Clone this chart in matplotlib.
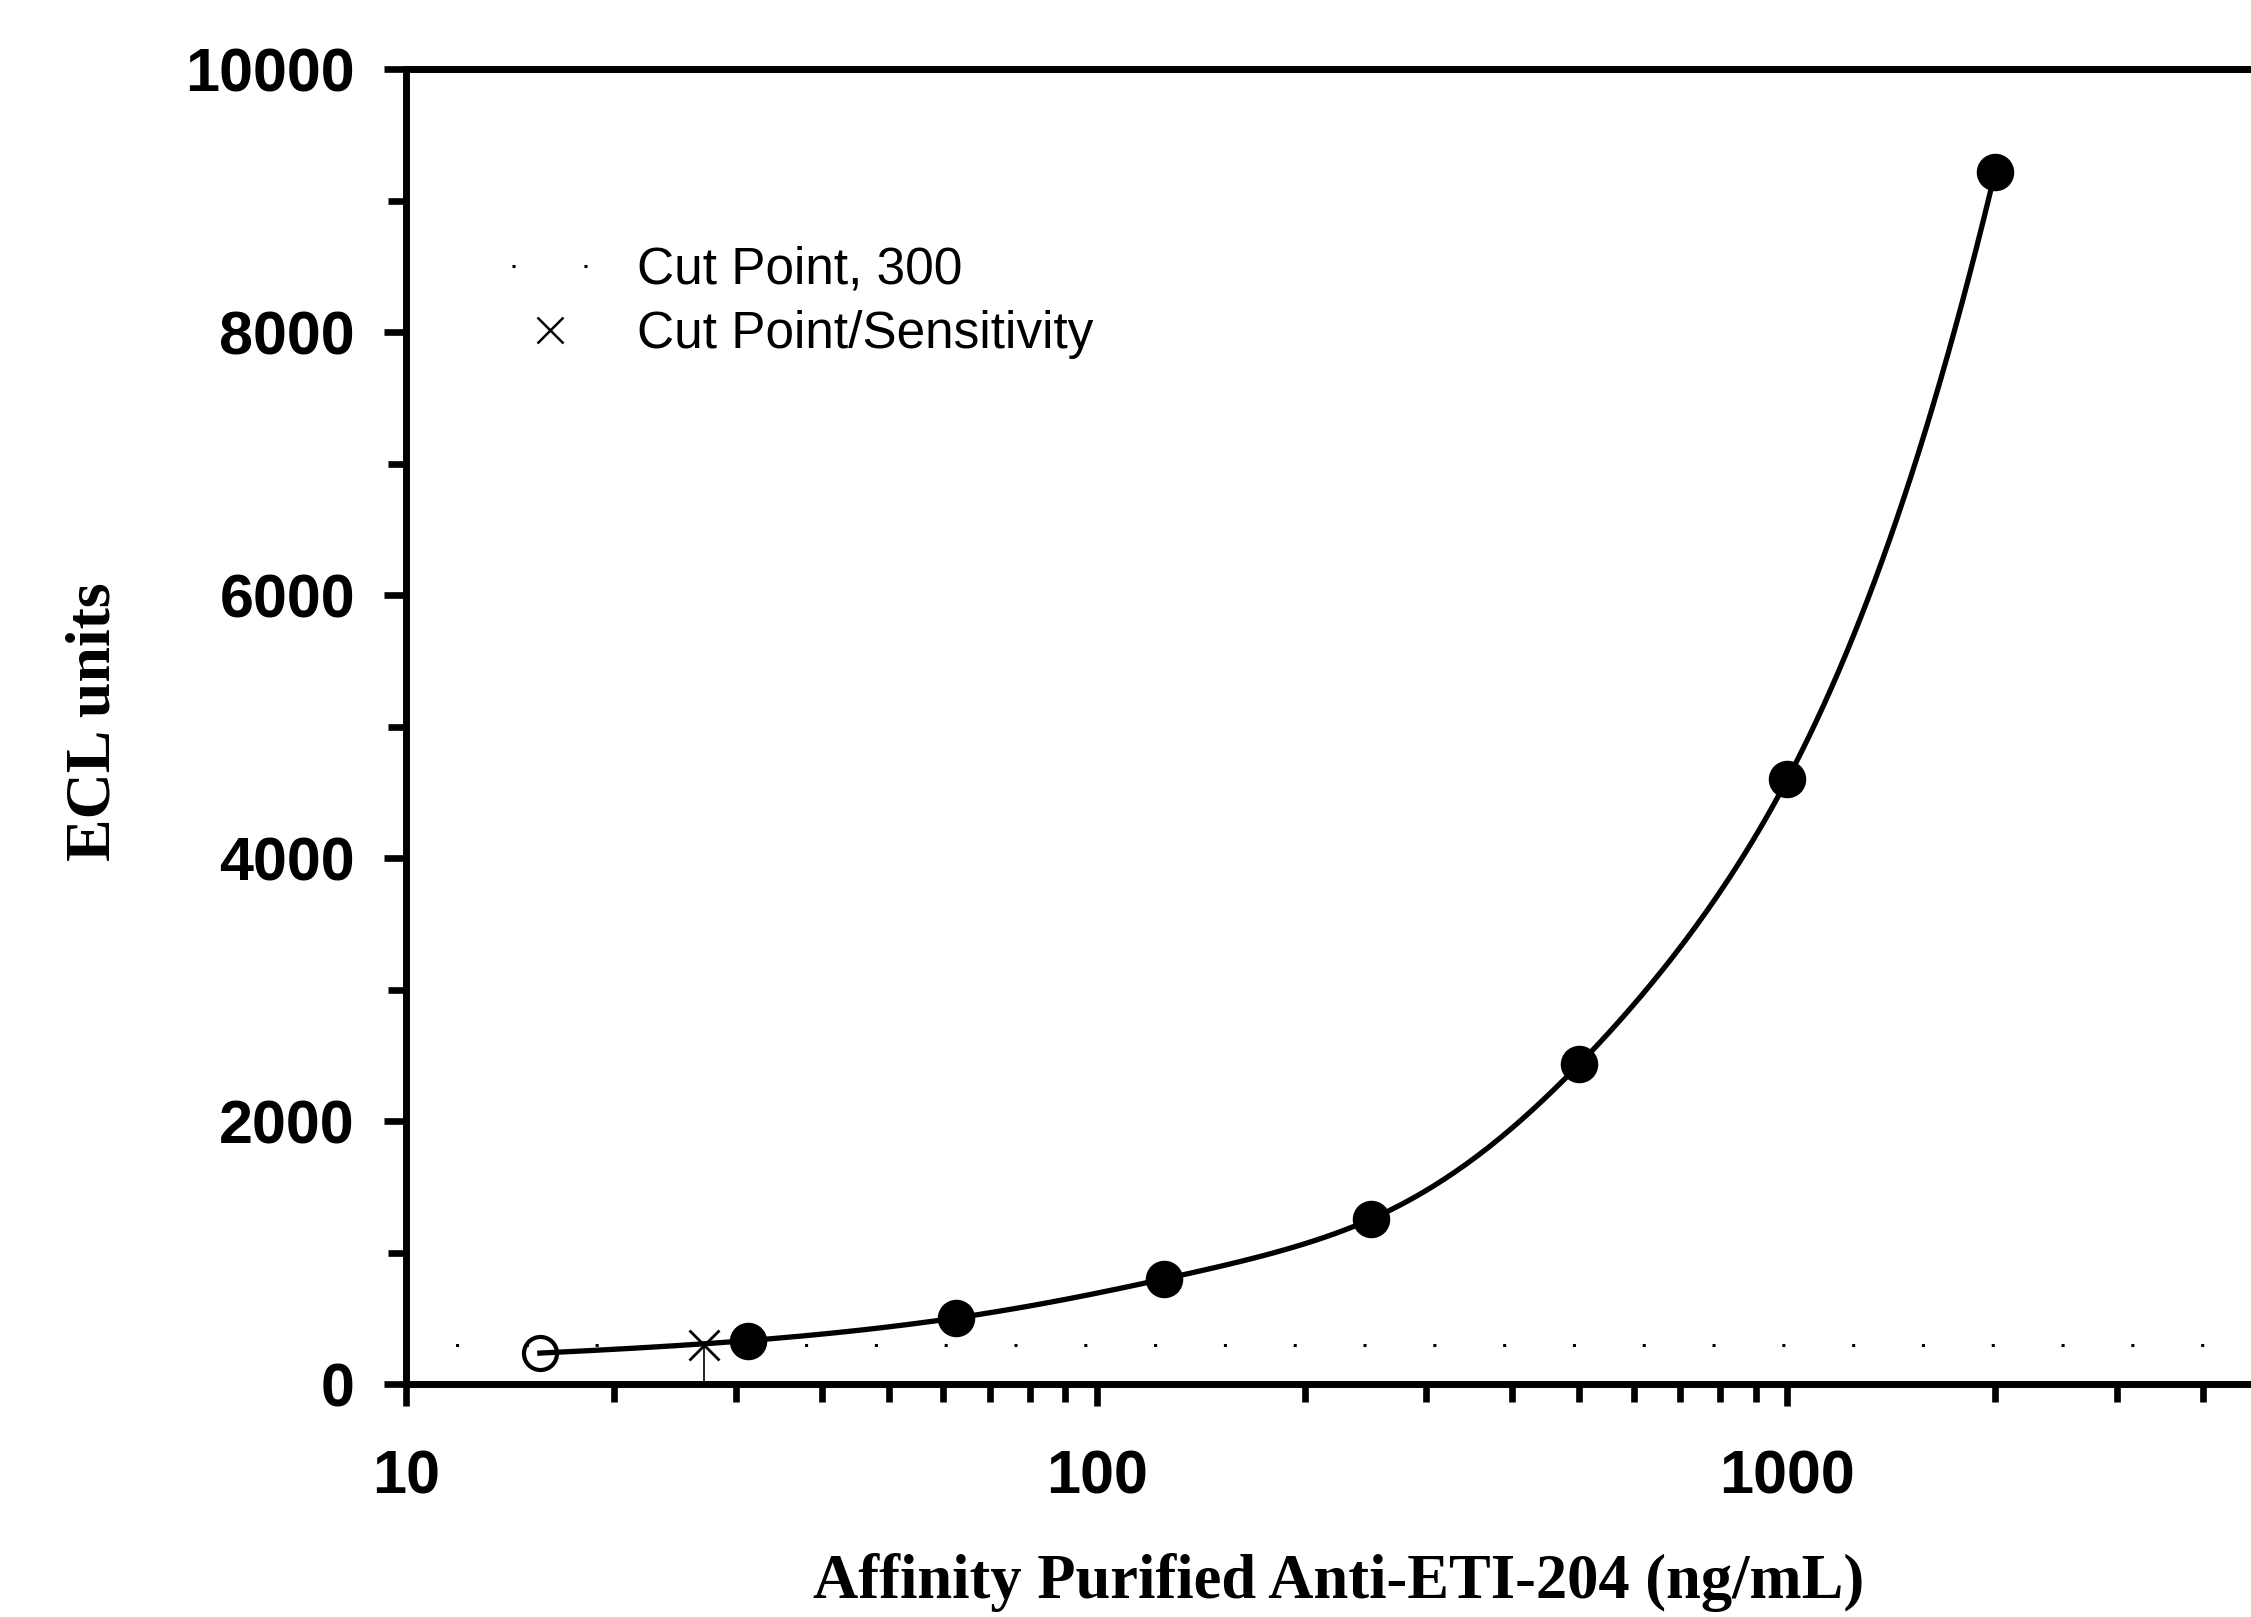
import numpy as np
import matplotlib
matplotlib.use('Agg')
import matplotlib.pyplot as plt
from matplotlib.lines import Line2D
from matplotlib.ticker import FixedLocator, MultipleLocator, LogLocator, NullFormatter

# standard curve
conc = [15.625, 31.25, 62.5, 125, 250, 500, 1000, 2000]
ecl = [235, 330, 502, 798, 1255, 2433, 4597, 9217]
cut_point = 300
sensitivity = 27
xticks = [10, 100, 1000]
xticklabels = ['10', '100', '1000']
yticks = [0, 2000, 4000, 6000, 8000, 10000]

plt.rcParams['font.family'] = 'Liberation Sans'
plt.rcParams['lines.scale_dashes'] = False


def natural_spline(x, y, xs):
    # natural cubic spline, x evenly spaced
    x = np.asarray(x, float)
    y = np.asarray(y, float)
    n = len(x)
    h = x[1] - x[0]
    A = np.zeros((n, n))
    b = np.zeros(n)
    A[0, 0] = A[-1, -1] = 1
    for i in range(1, n - 1):
        A[i, i - 1] = h
        A[i, i] = 4 * h
        A[i, i + 1] = h
        b[i] = 6 * (y[i + 1] - 2 * y[i] + y[i - 1]) / h
    M = np.linalg.solve(A, b)
    idx = np.clip(np.searchsorted(x, xs) - 1, 0, n - 2)
    x0, x1 = x[idx], x[idx + 1]
    return (M[idx] * (x1 - xs) ** 3 / (6 * h) + M[idx + 1] * (xs - x0) ** 3 / (6 * h)
            + (y[idx] / h - M[idx] * h / 6) * (x1 - xs)
            + (y[idx + 1] / h - M[idx + 1] * h / 6) * (xs - x0))


lx = np.log10(conc)
ly = np.log10(ecl)
xs = np.linspace(lx[0], lx[-1], 400)
ys = 10 ** natural_spline(lx, ly, xs)

fig = plt.figure(figsize=(11.255, 8.085), dpi=200)
ax = fig.add_axes([406 / 2251, 1 - 1384 / 1617, (2270 - 406) / 2251, (1384 - 69) / 1617])

# cut point line
ax.plot([10, 5000], [cut_point, cut_point], color='black', lw=1.1,
        ls=(7.3, (1.1, 24.03)), zorder=1)

# fitted curve
ax.plot(10 ** xs, ys, color='black', lw=1.9, zorder=2)
ax.plot(conc[1:], ecl[1:], 'o', color='black', ms=13, mew=0.5, zorder=3)
ax.plot(conc[:1], ecl[:1], 'o', mfc='none', mec='black', ms=11.9, mew=1.5, zorder=3)

# sensitivity
ax.plot([sensitivity, sensitivity], [0, cut_point], color='black', lw=0.6, zorder=2)
ax.plot([sensitivity], [cut_point], 'x', color='black', ms=11, mew=1.0, zorder=4)

ax.set_xscale('log')
ax.set_xlim(10, 5000)
ax.set_ylim(0, 10000)
ax.xaxis.set_major_locator(FixedLocator(xticks))
ax.set_xticklabels(xticklabels)
ax.xaxis.set_minor_locator(LogLocator(base=10, subs=np.arange(2, 10)))
ax.xaxis.set_minor_formatter(NullFormatter())
ax.set_yticks(yticks)
ax.set_yticklabels([str(v) for v in yticks])
ax.yaxis.set_minor_locator(MultipleLocator(1000))

for s in ['left', 'bottom', 'top']:
    ax.spines[s].set_linewidth(2.5)
ax.spines['right'].set_visible(False)

ax.tick_params(which='major', length=8, width=2.4, labelsize=22, color='black')
ax.tick_params(which='minor', length=6.6, width=2.4)
ax.tick_params(axis='x', which='major', pad=15.5)
ax.tick_params(axis='y', which='major', pad=10.4)
for lab in ax.get_xticklabels() + ax.get_yticklabels():
    lab.set_fontweight('bold')

fig.text(94 / 2251, 1 - 722 / 1617, 'ECL units', rotation=90, ha='center', va='center',
         family='Liberation Serif', weight='bold', size=23)
fig.text(1339 / 2251, 19 / 1617, 'Affinity Purified Anti-ETI-204 (ng/mL)', ha='center',
         va='baseline', family='Liberation Serif', weight='bold', size=22.5)

handles = [Line2D([], [], color='black', lw=1.1, ls=(0, (1.1, 24.8))),
           Line2D([], [], color='black', marker='x', ms=9.5, mew=0.9, ls='none')]
ax.legend(handles, ['Cut Point, 300', 'Cut Point/Sensitivity'], loc='upper left',
          bbox_to_anchor=(512 / 2251, 1 - 246 / 1617), bbox_transform=fig.transFigure,
          frameon=False, fontsize=18.5, handlelength=1.46, handletextpad=0.97,
          borderpad=0, borderaxespad=0, labelspacing=0.3)

fig.savefig('out.png', dpi=200)
